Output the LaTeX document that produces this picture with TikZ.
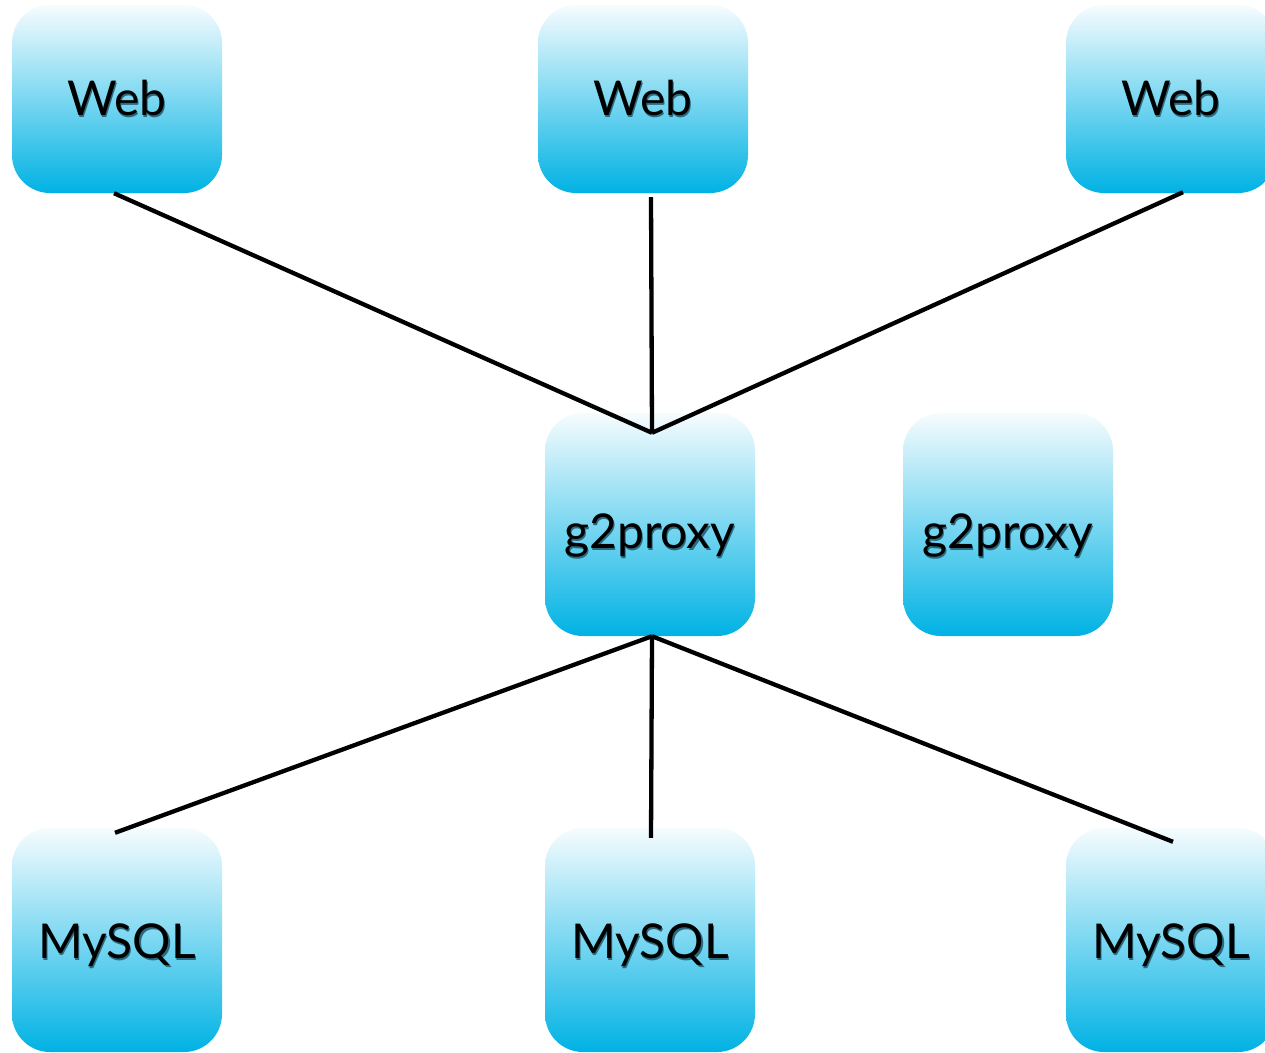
\documentclass[tikz,border=0pt]{standalone}
\usepackage{fontspec}
\setmainfont{Lato}
\usetikzlibrary{calc}
\definecolor{boxtop}{HTML}{F6FCFE}
\definecolor{boxbot}{HTML}{00B2E4}
\definecolor{txtshadow}{HTML}{2A6A80}
% #1 = distance of baseline below node centre, #2 = text
\newcommand\shtext[2]{\raisebox{-#1}[0pt][0pt]{\makebox[0pt]{\rlap{\kern1.2pt\raisebox{-2.2pt}{\textcolor{txtshadow}{#2}}}#2}}}
\tikzset{
  server/.style={rectangle, rounded corners=38pt, top color=boxtop, bottom color=boxbot,
    draw=none, minimum width=210pt, inner sep=0pt, font=\fontsize{48}{52}\selectfont},
  webbox/.style={server, minimum height=188pt},
  proxybox/.style={server, minimum height=223pt},
  dbbox/.style={server, minimum height=224pt},
  link/.style={draw=black, line width=4.3pt}
}
\begin{document}
\begin{tikzpicture}[x=1pt,y=-1pt]
\useasboundingbox (0,0) rectangle (1265,1052);
\clip (0,0) rectangle (1265,1052);
\fill[white] (0,0) rectangle (1265,1052);
% boxes
\node[webbox] (web1) at (117,99) {\shtext{16pt}{Web}};
\node[webbox] (web2) at (643,99) {\shtext{16pt}{Web}};
\node[webbox] (web3) at (1171,99) {\shtext{16pt}{Web}};
\node[proxybox] (proxy1) at (650,524.5) {\shtext{24pt}{g2proxy}};
\node[proxybox] (proxy2) at (1008,524.5) {\shtext{24pt}{g2proxy}};
\node[dbbox] (db1) at (117,940) {\shtext{18pt}{MySQL}};
\node[dbbox] (db2) at (650,940) {\shtext{18pt}{MySQL}};
\node[dbbox] (db3) at (1171,940) {\shtext{18pt}{MySQL}};
% connector ends
\coordinate (hubtop) at ($(proxy1.north)+(2,20)$);
\coordinate (hubbot) at ($(proxy1.south)+(2,0)$);
\coordinate (w1end) at ($(web1.south)+(-3,0)$);
\coordinate (w2end) at ($(web2.south)+(8,4)$);
\coordinate (w3end) at ($(web3.south)+(12,-1)$);
\coordinate (d1end) at ($(db1.north)+(-2,5)$);
\coordinate (d2end) at ($(db2.north)+(1,10)$);
\coordinate (d3end) at ($(db3.north)+(2,14)$);
\draw[link] (w1end) -- (hubtop);
\draw[link] (w2end) -- (hubtop);
\draw[link] (w3end) -- (hubtop);
\draw[link] (hubbot) -- (d1end);
\draw[link] (hubbot) -- (d2end);
\draw[link] (hubbot) -- (d3end);
\end{tikzpicture}
\end{document}
